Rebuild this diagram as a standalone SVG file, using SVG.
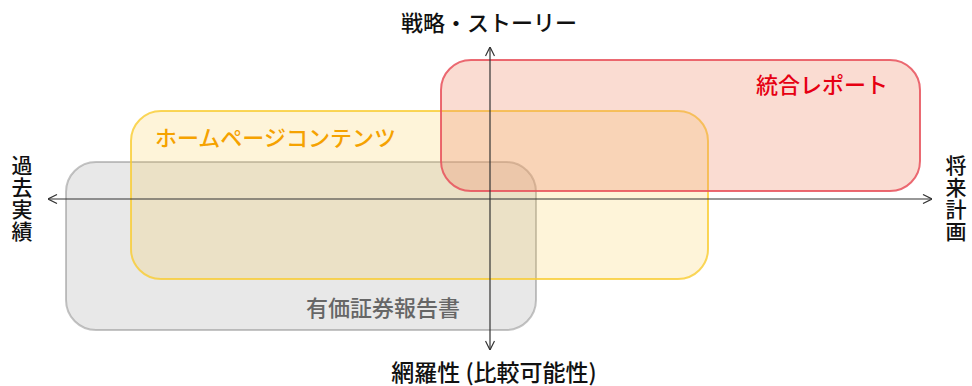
<svg xmlns="http://www.w3.org/2000/svg" width="972" height="386" viewBox="0 0 972 386">
<style>
text{font-family:"Noto Sans CJK JP","Noto Sans",sans-serif;font-size:22px;font-weight:500}
.axis{stroke:#333;stroke-width:1.2;fill:none}
.lbl{fill:#111}
.vert{font-size:21px}
.red rect{fill:#f08a6a;fill-opacity:0.3;stroke:#e8505b;stroke-opacity:0.85;stroke-width:2}
.yel rect{fill:#fbc640;fill-opacity:0.2;stroke:#f9cc30;stroke-opacity:0.8;stroke-width:2}
.gry rect{fill:#8a8a8a;fill-opacity:0.2;stroke:#8a8a8a;stroke-opacity:0.5;stroke-width:2}
</style>
<defs>
<marker id="ah" viewBox="0 0 10 10" refX="10" refY="5" markerWidth="10" markerHeight="10" markerUnits="userSpaceOnUse" orient="auto">
<path d="M1,0.5 L10,5 L1,9.5" fill="none" stroke="#333" stroke-width="1.2"/>
</marker>
</defs>
<g id="gray-node" class="gry">
<rect x="66" y="162" width="470" height="168" rx="30"/>
<text x="306" y="316" fill="#666">有価証券報告書</text>
</g>
<g id="yellow-node" class="yel">
<rect x="131" y="111" width="577" height="168" rx="30"/>
<text x="155" y="146" fill="#f5a200">ホームページコンテンツ</text>
</g>
<g id="red-node" class="red">
<rect x="441" y="60" width="479" height="131" rx="30"/>
<text x="888" y="93" text-anchor="end" fill="#e60012">統合レポート</text>
</g>
<g id="connectors">
<line class="axis" x1="490" y1="199" x2="490" y2="47" marker-end="url(#ah)"/>
<line class="axis" x1="490" y1="199" x2="490" y2="350" marker-end="url(#ah)"/>
<line class="axis" x1="490" y1="199" x2="48" y2="199" marker-end="url(#ah)"/>
<line class="axis" x1="490" y1="199" x2="932" y2="199" marker-end="url(#ah)"/>
</g>
<g id="axis-labels" class="lbl">
<text x="489" y="31" text-anchor="middle">戦略・ストーリー</text>
<text x="494" y="381" text-anchor="middle" style="font-size:23px">網羅性 (比較可能性)</text>
<text class="vert" text-anchor="middle"><tspan x="22" y="173">過</tspan><tspan x="22" y="195">去</tspan><tspan x="22" y="217">実</tspan><tspan x="22" y="239">績</tspan></text>
<text class="vert" text-anchor="middle"><tspan x="956" y="173">将</tspan><tspan x="956" y="195">来</tspan><tspan x="956" y="217">計</tspan><tspan x="956" y="239">画</tspan></text>
</g>
</svg>
